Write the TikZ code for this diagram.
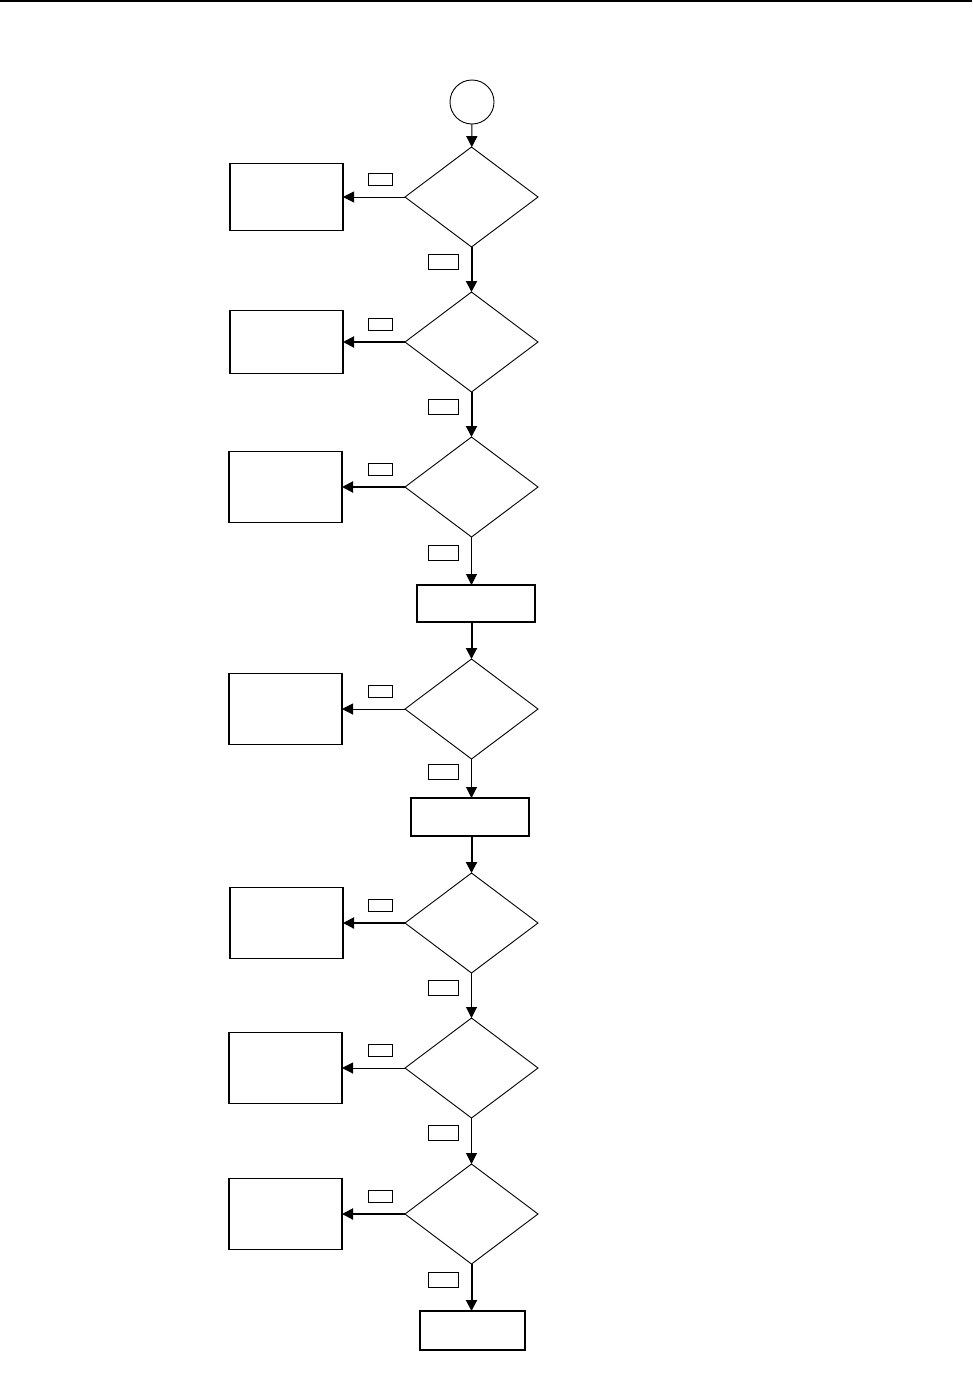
\documentclass[tikz,border=0pt]{standalone}
\usepackage{tikz}
\usetikzlibrary{arrows.meta,positioning,shapes.geometric}
\tikzset{
  startnode/.style={
    circle,
    draw=black,
    line width=0.9pt,
    minimum size=44pt,
    inner sep=0pt,
    outer sep=0pt
  },
  checknode/.style={
    diamond,
    draw=black,
    line width=0.9pt,
    minimum width=133pt,
    minimum height=100pt,
    inner sep=0pt,
    outer sep=0pt
  },
  sidebox/.style={
    rectangle,
    draw=black,
    line width=1.4pt,
    minimum width=113pt,
    minimum height=71pt,
    inner sep=0pt,
    outer sep=0pt
  },
  stepbox/.style={
    rectangle,
    draw=black,
    line width=1.4pt,
    minimum width=118pt,
    minimum height=37pt,
    inner sep=0pt,
    outer sep=0pt
  },
  nolabel/.style={
    rectangle,
    draw=black,
    line width=0.8pt,
    minimum width=24pt,
    minimum height=12pt,
    inner sep=0pt,
    pos=0.39,
    above=11pt
  },
  yeslabel/.style={
    rectangle,
    draw=black,
    line width=0.8pt,
    minimum width=30pt,
    minimum height=15pt,
    inner sep=0pt,
    pos=0.33,
    left=13pt
  },
  flowarrow/.style={
    -{Triangle[length=11pt,width=11pt]},
    line width=1pt,
    draw=black
  },
  thickarrow/.style={
    flowarrow,
    line width=2pt
  }
}

\begin{document}
\begin{tikzpicture}
\useasboundingbox (0pt,0pt) rectangle (972pt,-1387pt);
\draw[line width=1.5pt] (0pt,-1pt) -- (972pt,-1pt);

% main column
\node[startnode] (start) at (472pt,-102pt) {};
\node[checknode, below=23pt of start, xshift=-0.5pt] (d1) {};
\node[checknode, below=45pt of d1] (d2) {};
\node[checknode, below=45pt of d2] (d3) {};
\node[stepbox, below=48pt of d3, xshift=4.5pt] (ra) {};
\node[checknode, below=37pt of ra, xshift=-4.5pt] (d4) {};
\node[stepbox, below=39pt of d4, xshift=-1.5pt, minimum height=38pt] (rb) {};
\node[checknode, below=37pt of rb, xshift=1.5pt] (d5) {};
\node[checknode, below=45pt of d5] (d6) {};
\node[checknode, below=46pt of d6] (d7) {};
\node[stepbox, below=47pt of d7, xshift=1pt, minimum width=105pt, minimum height=39pt] (fin) {};

% side boxes
\node[sidebox, left=62pt of d1, minimum height=67pt] (b1) {};
\node[sidebox, left=62pt of d2, minimum height=63pt] (b2) {};
\node[sidebox, left=63pt of d3] (b3) {};
\node[sidebox, left=63pt of d4] (b4) {};
\node[sidebox, left=62pt of d5] (b5) {};
\node[sidebox, left=63pt of d6] (b6) {};
\node[sidebox, left=63pt of d7] (b7) {};

% down the column
\draw[flowarrow] (start) -- (d1);
\draw[thickarrow] (d1) -- node[yeslabel] {} (d2);
\draw[thickarrow] (d2) -- node[yeslabel] {} (d3);
\draw[flowarrow] (d3.south) -- node[yeslabel] {} (d3.south |- ra.north);
\draw[thickarrow] (ra.south -| d4.north) -- (d4.north);
\draw[flowarrow] (d4.south) -- node[yeslabel] {} (d4.south |- rb.north);
\draw[thickarrow] (rb.south -| d5.north) -- (d5.north);
\draw[flowarrow] (d5) -- node[yeslabel] {} (d6);
\draw[flowarrow] (d6) -- node[yeslabel] {} (d7);
\draw[thickarrow] (d7.south) -- node[yeslabel] {} (d7.south |- fin.north);

% out to the side
\draw[flowarrow] (d1) -- node[nolabel] {} (b1);
\draw[thickarrow] (d2) -- node[nolabel] {} (b2);
\draw[thickarrow] (d3) -- node[nolabel] {} (b3);
\draw[flowarrow] (d4) -- node[nolabel] {} (b4);
\draw[thickarrow] (d5) -- node[nolabel] {} (b5);
\draw[flowarrow] (d6) -- node[nolabel] {} (b6);
\draw[thickarrow] (d7) -- node[nolabel] {} (b7);
\end{tikzpicture}
\end{document}
